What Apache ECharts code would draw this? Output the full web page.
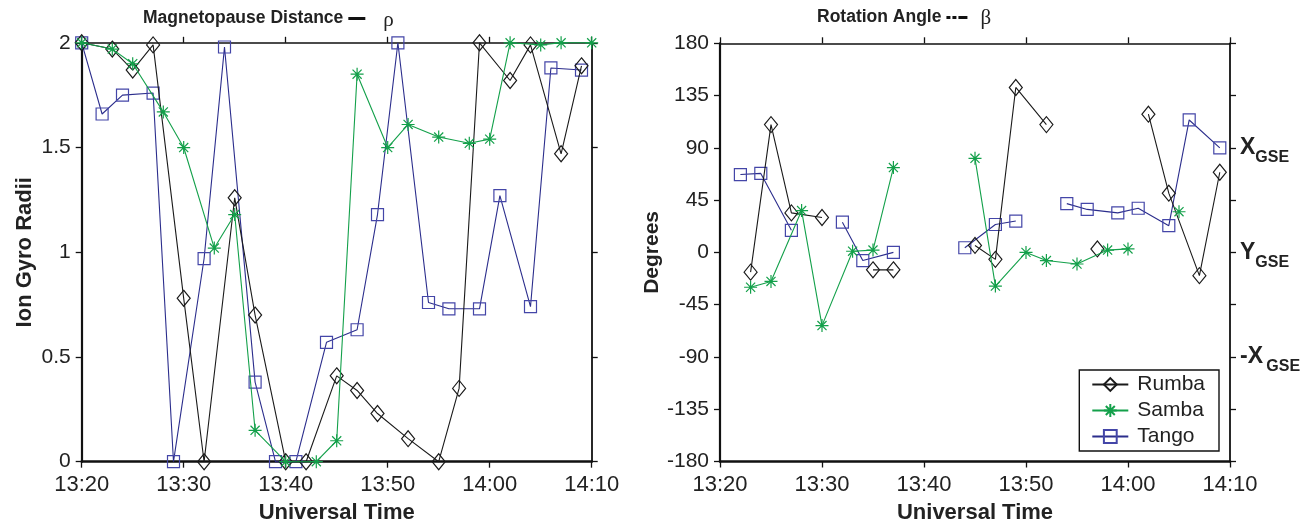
<!DOCTYPE html>
<html>
<head>
<meta charset="utf-8">
<script src="https://cdn.jsdelivr.net/npm/echarts@6/dist/echarts.min.js"></script>
<style>
html,body{margin:0;padding:0;background:#fff;}
#chart{width:1312px;height:529px;}
</style>
</head>
<body>
<div id="chart"></div>
<script>
// ---------- data ----------
var xTickLabels = ['13:20', '13:30', '13:40', '13:50', '14:00', '14:10'];
var seriesNames = ['Rumba', 'Samba', 'Tango'];

// Magnetopause distance (ion gyro radii)
var rumbaDistTimes = ['13:20','13:23','13:25','13:27','13:30','13:32','13:35','13:37','13:40','13:42','13:45','13:47','13:49','13:52','13:55','13:57','13:59','14:02','14:04','14:07','14:09'];
var rumbaDist      = [2.0, 1.97, 1.87, 1.99, 0.78, 0, 1.26, 0.70, 0, 0, 0.41, 0.34, 0.23, 0.11, 0, 0.35, 2.0, 1.82, 1.99, 1.47, 1.89];

var sambaDistTimes = ['13:20','13:23','13:25','13:28','13:30','13:33','13:35','13:37','13:40','13:43','13:45','13:47','13:50','13:52','13:55','13:58','14:00','14:02','14:05','14:07','14:10'];
var sambaDist      = [2.0, 1.97, 1.90, 1.67, 1.50, 1.02, 1.18, 0.15, 0, 0, 0.10, 1.85, 1.50, 1.61, 1.55, 1.52, 1.54, 2.0, 1.99, 2.0, 2.0];

var tangoDistTimes = ['13:20','13:22','13:24','13:27','13:29','13:32','13:34','13:37','13:39','13:41','13:44','13:47','13:49','13:51','13:54','13:56','13:59','14:01','14:04','14:06','14:09'];
var tangoDist      = [2.0, 1.66, 1.75, 1.76, 0, 0.97, 1.98, 0.38, 0, 0, 0.57, 0.63, 1.18, 2.0, 0.76, 0.73, 0.73, 1.27, 0.74, 1.88, 1.87];

// Rotation angle (degrees); null = gap in the line
var rumbaAngleTimes = ['13:23','13:25','13:27','13:30','13:32','13:35','13:37','13:40','13:45','13:47','13:49','13:52','13:55','13:57','14:00','14:02','14:04','14:07','14:09'];
var rumbaAngle      = [-17, 110, 34, 30, null, -15, -15, null, 6, -6, 142, 110, null, 3, null, 119, 51, -20, 69];

var sambaAngleTimes = ['13:23','13:25','13:28','13:30','13:33','13:35','13:37','13:40','13:45','13:47','13:50','13:52','13:55','13:58','14:00','14:02','14:05'];
var sambaAngle      = [-30, -25, 36, -63, 1, 2, 73, null, 81, -29, 0, -7, -10, 2, 3, null, 35];

var tangoAngleTimes = ['13:22','13:24','13:27','13:30','13:32','13:34','13:37','13:40','13:44','13:47','13:49','13:51','13:54','13:56','13:59','14:01','14:04','14:06','14:09'];
var tangoAngle      = [67, 68, 19, null, 26, -7, 0, null, 4, 24, 27, null, 42, 37, 34, 38, 23, 114, 90];

var rightAxisLabels = { '90': '{x|X}{s|GSE}', '0': '{x|Y}{s|GSE}', '-90': '{x|-X} {s|GSE}' };

// ---------- helpers ----------
function toMin(s) { var p = s.split(':'); return (+p[0]) * 60 + (+p[1]); }
function fmtMin(v) { var h = Math.floor(v / 60), m = v % 60; return h + ':' + (m < 10 ? '0' : '') + m; }
function pairs(times, vals) {
  return times.map(function (t, i) { return [toMin(t), vals[i] == null ? '-' : vals[i]]; });
}

var FONT = 'Liberation Sans';
var TXT = '#222';
var colors = { Rumba: '#1a1a1a', Samba: '#13a04a', Tango: '#2b2d8c' };
var markerColors = { Rumba: '#1a1a1a', Samba: '#13a04a', Tango: '#4446a8' };
var symbols = {
  Rumba: 'path://M5,0L10,6L5,12L0,6Z',
  Samba: 'path://M5,0L5,10M0,5L10,5M1.5,1.5L8.5,8.5M1.5,8.5L8.5,1.5',
  Tango: 'path://M0,0L10,0L10,10L0,10Z'
};
var symbolSizes = { Rumba: [13, 16], Samba: [13, 13], Tango: [12, 12] };

function mkSeries(name, data, xi, yi) {
  return {
    name: name, type: 'line', xAxisIndex: xi, yAxisIndex: yi, data: data,
    symbol: symbols[name], symbolSize: symbolSizes[name], showAllSymbol: true,
    connectNulls: false, clip: false,
    lineStyle: { color: colors[name], width: 1.1 },
    itemStyle: { color: 'rgba(0,0,0,0)', borderColor: markerColors[name], borderWidth: 1.2 },
    emphasis: { disabled: true },
    z: name === 'Rumba' ? 3 : (name === 'Samba' ? 4 : 2)
  };
}

var xMin = toMin(xTickLabels[0]), xMax = toMin(xTickLabels[xTickLabels.length - 1]);

function xAxisBottom(gi) {
  return {
    type: 'value', gridIndex: gi, min: xMin, max: xMax, interval: 10, position: 'bottom',
    name: 'Universal Time', nameLocation: 'middle', nameGap: 40,
    nameTextStyle: { fontFamily: FONT, fontSize: 22, fontWeight: 'bold', color: TXT },
    axisLine: { show: true, onZero: false, lineStyle: { color: '#111', width: 2.6 } },
    axisTick: { show: true, length: 6, lineStyle: { color: '#111', width: 1.3 } },
    axisLabel: { fontFamily: FONT, fontSize: 22, color: TXT, margin: 12, formatter: fmtMin },
    splitLine: { show: false }
  };
}
function xAxisTop(gi) {
  return {
    type: 'value', gridIndex: gi, min: xMin, max: xMax, interval: 10, position: 'top',
    axisLine: { show: true, onZero: false, lineStyle: { color: '#111', width: 1.6 } },
    axisTick: { show: true, length: 6, lineStyle: { color: '#111', width: 1.3 } },
    axisLabel: { show: false }, splitLine: { show: false }
  };
}

var option = {
  animation: false,
  backgroundColor: '#fff',
  title: [
    {
      left: 138, top: 1,
      text: '{t|Magnetopause Distance}{g1|}{d|}{g2|}{r|ρ}',
      textStyle: {
        rich: {
          t: { fontFamily: FONT, fontSize: 17.5, fontWeight: 'bold', color: TXT },
          g1: { width: 5 },
          d: { width: 17, height: 3, backgroundColor: '#111' },
          g2: { width: 18 },
          r: { fontFamily: 'Liberation Serif', fontSize: 21, fontWeight: 'normal', color: TXT, padding: [4, 0, 0, 0] }
        }
      }
    },
    {
      left: 812, top: 1,
      text: '{t|Rotation Angle}{g1|}{d|}{g0|}{d|}{g0|}{e|}{g2|}{r|β}',
      textStyle: {
        rich: {
          t: { fontFamily: FONT, fontSize: 17.5, fontWeight: 'bold', color: TXT },
          g1: { width: 5 },
          d: { width: 4, height: 3, backgroundColor: '#111' },
          e: { width: 9, height: 3, backgroundColor: '#111' },
          g0: { width: 2 },
          g2: { width: 13 },
          r: { fontFamily: 'Liberation Serif', fontSize: 21, fontWeight: 'normal', color: TXT, padding: [2, 0, 0, 0] }
        }
      }
    }
  ],
  legend: {
    right: 1312 - 1219, top: 370, orient: 'vertical',
    data: seriesNames,
    itemWidth: 36, itemHeight: 16, itemGap: 5,
    padding: [4, 14, 4, 12],
    borderColor: '#111', borderWidth: 1.4, backgroundColor: '#fff',
    textStyle: { fontFamily: FONT, fontSize: 21, color: TXT, padding: [0, 0, 0, 4] },
    selectedMode: false
  },
  grid: [
    { left: 81.7, right: 1312 - 591.7, top: 42.8, bottom: 529 - 461.7, containLabel: false },
    { left: 720, right: 1312 - 1230, top: 43.3, bottom: 529 - 461.5, containLabel: false }
  ],
  xAxis: [xAxisBottom(0), xAxisTop(0), xAxisBottom(1), xAxisTop(1)],
  yAxis: [
    {
      type: 'value', gridIndex: 0, min: 0, max: 2, interval: 0.5, position: 'left',
      name: 'Ion Gyro Radii', nameLocation: 'middle', nameGap: 46, nameRotate: 90,
      nameTextStyle: { fontFamily: FONT, fontSize: 22, fontWeight: 'bold', color: TXT },
      axisLine: { show: true, onZero: false, lineStyle: { color: '#111', width: 2.2 } },
      axisTick: { show: true, length: 6, lineStyle: { color: '#111', width: 1.3 } },
      axisLabel: { fontFamily: FONT, fontSize: 21, color: TXT, margin: 11 },
      splitLine: { show: false }
    },
    {
      type: 'value', gridIndex: 0, min: 0, max: 2, interval: 0.5, position: 'right',
      axisLine: { show: true, onZero: false, lineStyle: { color: '#111', width: 1.8 } },
      axisTick: { show: true, length: 6, lineStyle: { color: '#111', width: 1.3 } },
      axisLabel: { show: false }, splitLine: { show: false }
    },
    {
      type: 'value', gridIndex: 1, min: -180, max: 180, interval: 45, position: 'left',
      name: 'Degrees', nameLocation: 'middle', nameGap: 57, nameRotate: 90,
      nameTextStyle: { fontFamily: FONT, fontSize: 21, fontWeight: 'bold', color: TXT },
      axisLine: { show: true, onZero: false, lineStyle: { color: '#111', width: 2.2 } },
      axisTick: { show: true, length: 6, lineStyle: { color: '#111', width: 1.3 } },
      axisLabel: { fontFamily: FONT, fontSize: 21, color: TXT, margin: 11 },
      splitLine: { show: false }
    },
    {
      type: 'value', gridIndex: 1, min: -180, max: 180, interval: 45, position: 'right',
      axisLine: { show: true, onZero: false, lineStyle: { color: '#111', width: 1.8 } },
      axisTick: { show: true, length: 6, lineStyle: { color: '#111', width: 1.3 } },
      axisLabel: {
        show: true, margin: 10,
        formatter: function (v) { return rightAxisLabels[String(v)] || ''; },
        rich: {
          x: { fontFamily: FONT, fontSize: 23, fontWeight: 'bold', color: TXT },
          s: { fontFamily: FONT, fontSize: 16, fontWeight: 'bold', color: TXT, padding: [20, 0, 0, 0] }
        }
      },
      splitLine: { show: false }
    }
  ],
  series: [
    mkSeries('Rumba', pairs(rumbaDistTimes, rumbaDist), 0, 0),
    mkSeries('Samba', pairs(sambaDistTimes, sambaDist), 0, 0),
    mkSeries('Tango', pairs(tangoDistTimes, tangoDist), 0, 0),
    mkSeries('Rumba', pairs(rumbaAngleTimes, rumbaAngle), 2, 2),
    mkSeries('Samba', pairs(sambaAngleTimes, sambaAngle), 2, 2),
    mkSeries('Tango', pairs(tangoAngleTimes, tangoAngle), 2, 2)
  ]
};

var chart = echarts.init(document.getElementById('chart'), null, { renderer: 'canvas' });
chart.setOption(option);
</script>
</body>
</html>
